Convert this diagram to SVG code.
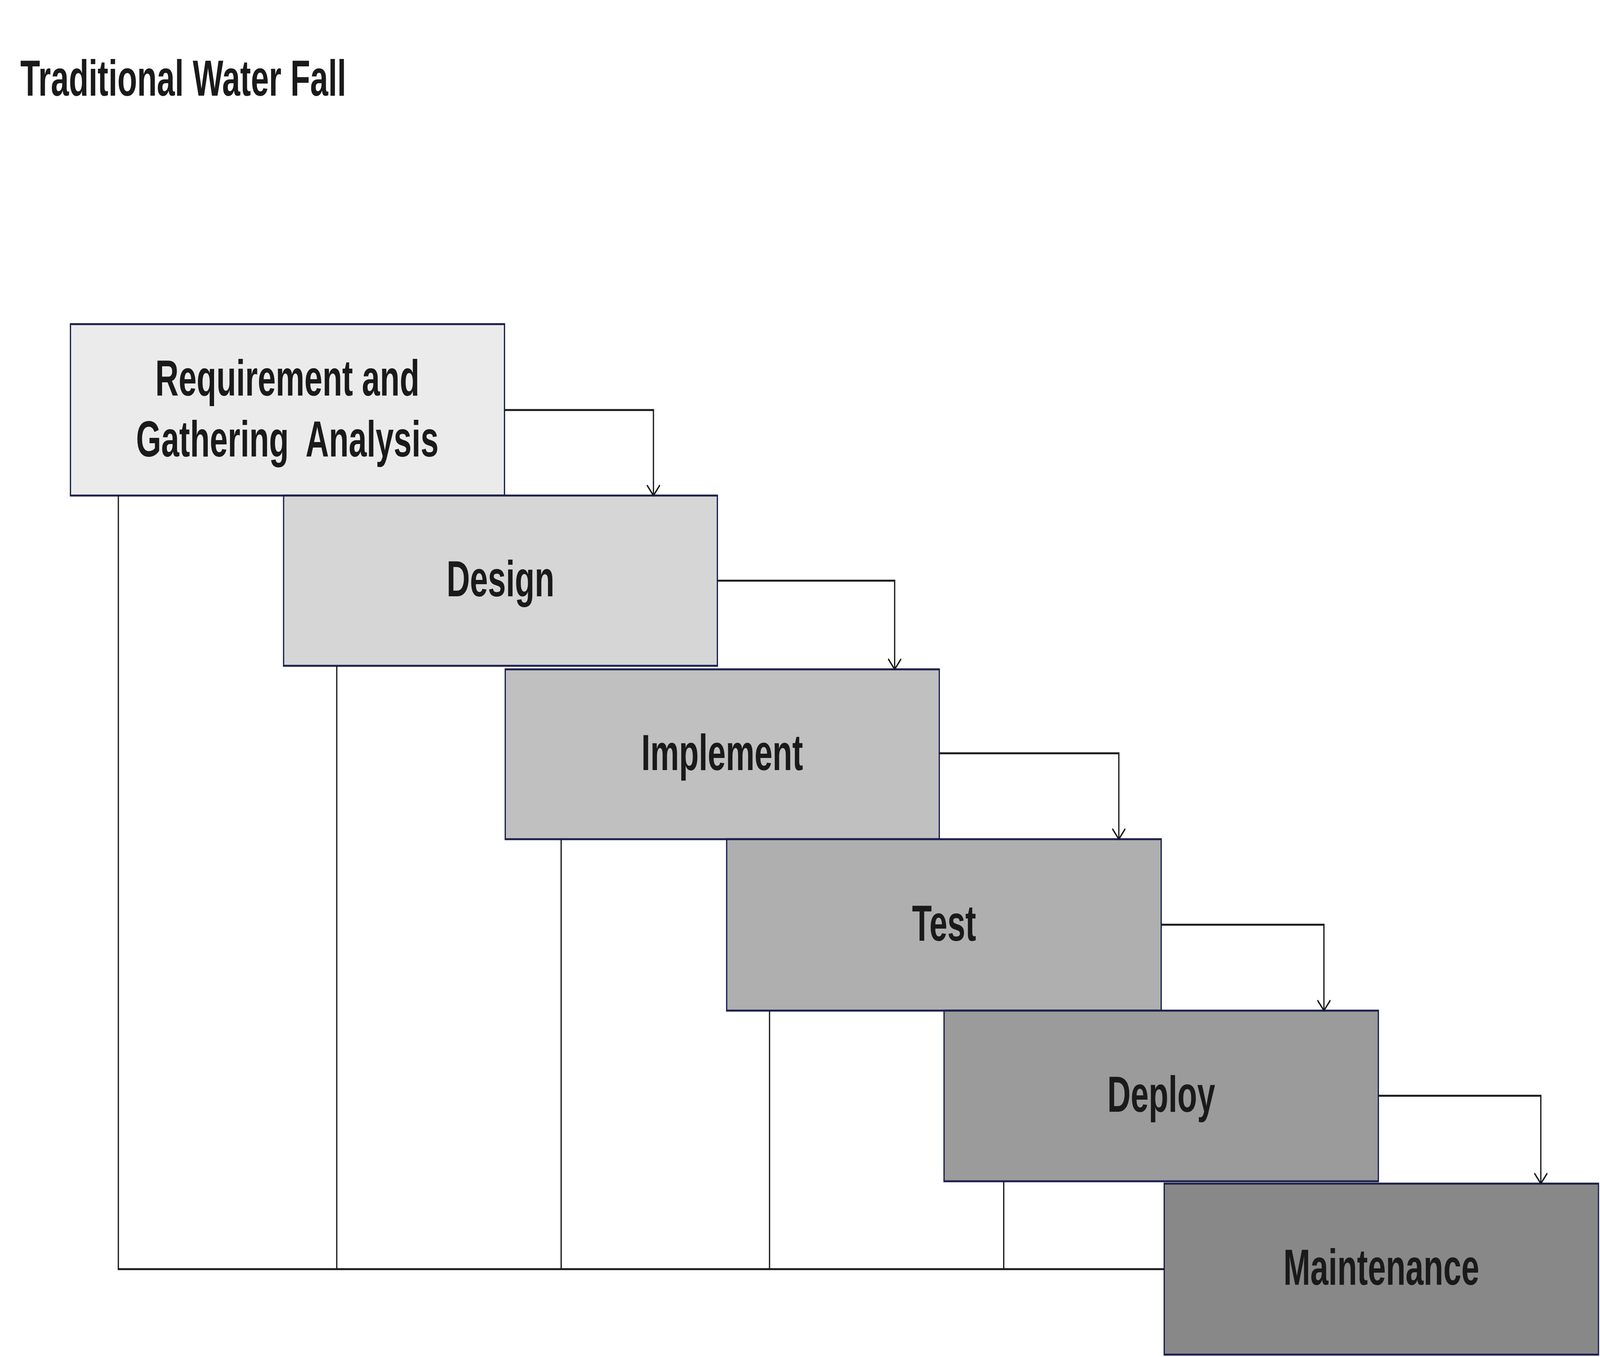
<svg xmlns="http://www.w3.org/2000/svg" width="6381" height="3475" viewBox="0 0 6381 3475" preserveAspectRatio="none">
  <style>
    svg { width: 100vw; height: 100vh; }
    .box { stroke: #1b1f4d; stroke-width: 5; }
    .lbl { font-family: "Liberation Sans", Arial, sans-serif; font-weight: bold; font-size: 129px; fill: #1a1a1a; text-anchor: middle; }
    .title { font-family: "Liberation Sans", Arial, sans-serif; font-weight: bold; font-size: 129px; fill: #1a1a1a; }
    .conn { fill: none; stroke: #1a1a1a; stroke-width: 5; stroke-linejoin: miter; }
  </style>
  <defs>
    <marker id="arrow" markerUnits="userSpaceOnUse" markerWidth="60" markerHeight="60" refX="0" refY="0" viewBox="-32 -32 40 64" orient="auto" overflow="visible">
      <path d="M-27,-26 L0,0 L-27,26" fill="none" stroke="#1a1a1a" stroke-width="5" stroke-linecap="round" stroke-linejoin="round"/>
    </marker>
  </defs>
  <rect width="6381" height="3475" fill="#ffffff"/>
  <text class="title" x="81" y="245">Traditional Water Fall</text>

  <g id="node-requirement">
    <rect class="box" x="281" y="830" width="1731" height="439" fill="#ebebeb"/>
    <text class="lbl" x="1146" y="1013">Requirement and</text>
    <text class="lbl" x="1146" y="1169" xml:space="preserve">Gathering  Analysis</text>
  </g>
  <g id="node-design">
    <rect class="box" x="1131" y="1269" width="1730" height="436" fill="#d6d6d6"/>
    <text class="lbl" x="1996" y="1527">Design</text>
  </g>
  <g id="node-implement">
    <rect class="box" x="2015" y="1714" width="1731" height="435" fill="#c0c0c0"/>
    <text class="lbl" x="2880" y="1972">Implement</text>
  </g>
  <g id="node-test">
    <rect class="box" x="2898" y="2149" width="1733" height="439" fill="#afafaf"/>
    <text class="lbl" x="3765" y="2409">Test</text>
  </g>
  <g id="node-deploy">
    <rect class="box" x="3765" y="2588" width="1732" height="437" fill="#9b9b9b"/>
    <text class="lbl" x="4631" y="2847">Deploy</text>
  </g>
  <g id="node-maintenance">
    <rect class="box" x="4643" y="3031" width="1732" height="438" fill="#888888"/>
    <text class="lbl" x="5509" y="3290">Maintenance</text>
  </g>

  <g id="connectors">
    <path class="conn" d="M2012,1050 H2606 V1269" marker-end="url(#arrow)"/>
    <path class="conn" d="M2861,1487 H3568 V1714" marker-end="url(#arrow)"/>
    <path class="conn" d="M3746,1929 H4462 V2149" marker-end="url(#arrow)"/>
    <path class="conn" d="M4631,2368 H5280 V2588" marker-end="url(#arrow)"/>
    <path class="conn" d="M5497,2806 H6145 V3031" marker-end="url(#arrow)"/>
    <path class="conn" d="M472,1269 V3250 H4643"/>
    <path class="conn" d="M1343,1705 V3250"/>
    <path class="conn" d="M2238,2149 V3250"/>
    <path class="conn" d="M3069,2588 V3250"/>
    <path class="conn" d="M4003,3025 V3250"/>
  </g>
</svg>
